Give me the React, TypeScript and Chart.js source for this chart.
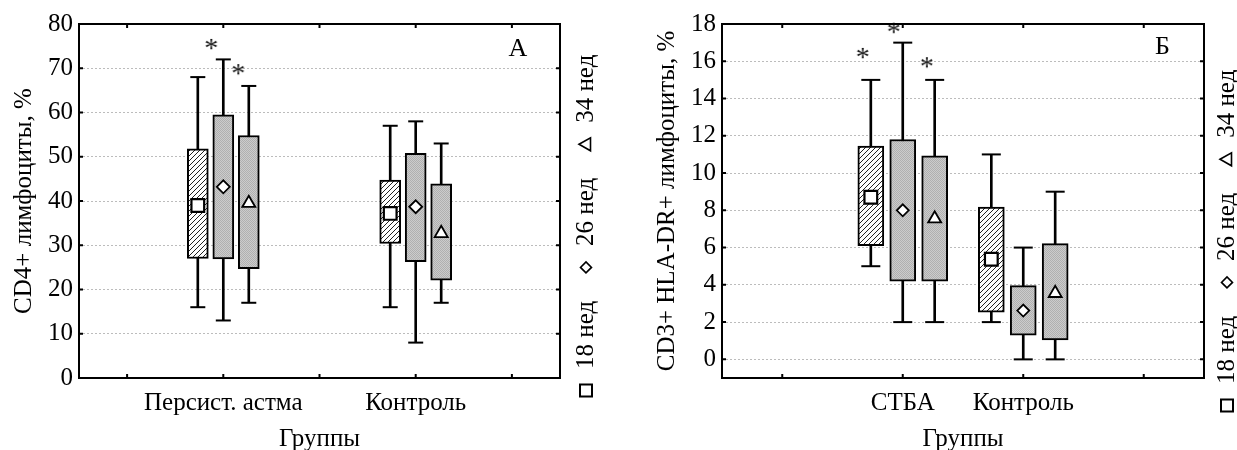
import React, { useEffect, useRef } from 'react';
import { Chart, registerables } from 'chart.js';

Chart.register(...registerables);

const FONT = '"Liberation Serif", "Times New Roman", serif';
const FS = 25;

// ---------- shared ----------
const weeks = ['18 нед', '26 нед', '34 нед'];
const xTitle = 'Группы';

// ---------- panel A: CD4+ ----------
const cd4Title = 'CD4+ лимфоциты, %';
const cd4Letter = 'А';
const cd4Groups = ['Персист. астма', 'Контроль'];
const cd4GroupX = [1, 3];
const cd4XTicks = [0, 1, 2, 3, 4];
// [group][week]
const cd4Min = [[16, 13, 17], [16, 8, 17]];
const cd4Q1 = [[27, 26.9, 24.7], [30.4, 26.3, 22.1]];
const cd4Mid = [[39, 43.2, 39.5], [37.2, 38.7, 32.7]];
const cd4Q3 = [[51.8, 59.5, 54.8], [44.7, 50.8, 43.9]];
const cd4Max = [[68, 72, 66], [57, 58, 53]];
const cd4StarX = [0.875, 1.156];
const cd4StarY = [75.5, 69.8];

// ---------- panel B: CD3+ HLA-DR+ ----------
const hlaTitle = 'CD3+ HLA-DR+ лимфоциты, %';
const hlaLetter = 'Б';
const hlaGroups = ['СТБА', 'Контроль'];
const hlaGroupX = [1, 2];
const hlaXTicks = [0, 1, 2, 3];
const hlaMin = [[5, 2, 2], [2, 0, 0]];
const hlaQ1 = [[6.1, 4.2, 4.2], [2.53, 1.3, 1.05]];
const hlaMid = [[8.7, 8.0, 7.55], [5.37, 2.62, 3.55]];
const hlaQ3 = [[11.45, 11.8, 10.92], [8.18, 3.96, 6.21]];
const hlaMax = [[15, 17, 15], [11, 6, 9]];
const hlaStarX = [0.668, 0.925, 1.2];
const hlaStarY = [16.45, 17.8, 15.95];

const BOX_OFFSETS = [-0.265, 0, 0.265];

type Panel = {
  left: number;
  width: number;
  yAxisWidth: number;
  rightPad: number;
  titlePad: number;
  xMin: number;
  xMax: number;
  xTicks: number[];
  yMin: number;
  yMax: number;
  yStep: number;
  groups: string[];
  groupX: number[];
  min: number[][];
  q1: number[][];
  mid: number[][];
  q3: number[][];
  max: number[][];
  starX: number[];
  starY: number[];
  yTitle: string;
  letter: string;
  letterDx: number;
  letterDy: number;
  boxPx: number;
  capR: number;
  markerR: number[];
  legendX: number;
  legendBottom: number;
};

const panels: Panel[] = [
  {
    left: 0, width: 618, yAxisWidth: 79, rightPad: 58, titlePad: 11.5,
    xMin: -0.5, xMax: 4.5, xTicks: cd4XTicks, yMin: 0, yMax: 80, yStep: 10,
    groups: cd4Groups, groupX: cd4GroupX,
    min: cd4Min, q1: cd4Q1, mid: cd4Mid, q3: cd4Q3, max: cd4Max,
    starX: cd4StarX, starY: cd4StarY,
    yTitle: cd4Title, letter: cd4Letter, letterDx: 42, letterDy: 25.5,
    boxPx: 21, capR: 7.5, markerR: [9, 6.5, 7.5],
    legendX: 586, legendBottom: 397,
  },
  {
    left: 618, width: 619, yAxisWidth: 104, rightPad: 33, titlePad: 36.5,
    xMin: -0.5, xMax: 3.5, xTicks: hlaXTicks, yMin: -1, yMax: 18, yStep: 2,
    groups: hlaGroups, groupX: hlaGroupX,
    min: hlaMin, q1: hlaQ1, mid: hlaMid, q3: hlaQ3, max: hlaMax,
    starX: hlaStarX, starY: hlaStarY,
    yTitle: hlaTitle, letter: hlaLetter, letterDx: 41.5, letterDy: 23.5,
    boxPx: 26, capR: 9.5, markerR: [9, 6, 7.5],
    legendX: 609, legendBottom: 412,
  },
];

function makeFills(ctx: CanvasRenderingContext2D) {
  const h = document.createElement('canvas');
  h.width = 5; h.height = 5;
  const hc = h.getContext('2d')!;
  hc.fillStyle = '#ffffff';
  hc.fillRect(0, 0, 5, 5);
  for (let i = 0; i < 5; i++) {
    hc.fillStyle = '#222222';
    hc.fillRect(i, 4 - i, 1, 1);
  }
  const hatch = ctx.createPattern(h, 'repeat')!;
  const g = document.createElement('canvas');
  g.width = 2; g.height = 2;
  const gc = g.getContext('2d')!;
  gc.fillStyle = '#cccccc';
  gc.fillRect(0, 0, 2, 2);
  gc.fillStyle = '#b0b0b0';
  gc.fillRect(0, 0, 1, 1);
  gc.fillRect(1, 1, 1, 1);
  const dots = ctx.createPattern(g, 'repeat')!;
  return [hatch, dots, dots];
}

function makeStar(size: number) {
  const c = document.createElement('canvas');
  c.width = 22; c.height = 22;
  const x = c.getContext('2d')!;
  x.fillStyle = '#111';
  x.font = `${size}px ${FONT}`;
  x.textAlign = 'center';
  x.textBaseline = 'alphabetic';
  x.fillText('*', 11, 11 + 0.47 * size);
  return c;
}

function drawSymbol(ctx: CanvasRenderingContext2D, kind: number, cx: number, cy: number) {
  ctx.save();
  ctx.fillStyle = '#fff';
  ctx.strokeStyle = '#000';
  ctx.beginPath();
  if (kind === 0) {
    ctx.lineWidth = 2;
    ctx.rect(cx - 6, cy - 6, 12, 12);
  } else if (kind === 1) {
    ctx.lineWidth = 1.6;
    ctx.moveTo(cx - 5.5, cy);
    ctx.lineTo(cx, cy - 5.5);
    ctx.lineTo(cx + 5.5, cy);
    ctx.lineTo(cx, cy + 5.5);
    ctx.closePath();
  } else {
    ctx.lineWidth = 1.6;
    ctx.moveTo(cx, cy - 7);
    ctx.lineTo(cx + 6.5, cy + 4.5);
    ctx.lineTo(cx - 6.5, cy + 4.5);
    ctx.closePath();
  }
  ctx.fill();
  ctx.stroke();
  ctx.restore();
}

function BoxPanel({ cfg }: { cfg: Panel }) {
  const ref = useRef<HTMLCanvasElement>(null);
  useEffect(() => {
    const canvas = ref.current!;
    const ctx = canvas.getContext('2d')!;
    const fills = makeFills(ctx);
    const star = makeStar(28);
    const pos = (gi: number, wi: number) => cfg.groupX[gi] + BOX_OFFSETS[wi];

    const whiskers: any[] = [];
    const caps: any[] = [];
    cfg.groups.forEach((_, gi) => {
      weeks.forEach((__, wi) => {
        whiskers.push({ x: pos(gi, wi), y: [cfg.min[gi][wi], cfg.max[gi][wi]] });
        caps.push({ x: pos(gi, wi), y: cfg.min[gi][wi] });
        caps.push({ x: pos(gi, wi), y: cfg.max[gi][wi] });
      });
    });

    const markerStyles = ['rect', 'rectRot', 'triangle'];
    const datasets: any[] = [
      {
        type: 'bar', data: whiskers, backgroundColor: '#000', borderWidth: 0,
        barThickness: 2, grouped: false, order: 5,
      },
      {
        type: 'scatter', data: caps, pointStyle: 'line', pointRadius: cfg.capR,
        borderColor: '#000', borderWidth: 2, order: 4,
      },
    ];
    weeks.forEach((w, wi) => {
      datasets.push({
        type: 'bar', label: w,
        data: cfg.groups.map((_, gi) => ({ x: pos(gi, wi), y: [cfg.q1[gi][wi], cfg.q3[gi][wi]] })),
        backgroundColor: fills[wi], borderColor: '#000', borderWidth: 2, borderSkipped: false,
        barThickness: cfg.boxPx, grouped: false, order: 3,
      });
    });
    weeks.forEach((w, wi) => {
      datasets.push({
        type: 'scatter', label: w,
        data: cfg.groups.map((_, gi) => ({ x: pos(gi, wi), y: cfg.mid[gi][wi] })),
        pointStyle: markerStyles[wi], pointRadius: cfg.markerR[wi],
        backgroundColor: '#fff', borderColor: '#000', borderWidth: wi === 0 ? 2.2 : 1.8, order: 2,
      });
    });
    datasets.push({
      type: 'scatter',
      data: cfg.starX.map((x, i) => ({ x, y: cfg.starY[i] })),
      pointStyle: star, pointRadius: 5, order: 1, clip: false,
    });

    const decor = {
      id: 'decor',
      afterDatasetsDraw(chart: any) {
        const { ctx: c, chartArea: a, scales } = chart;
        c.save();
        c.strokeStyle = '#000';
        c.lineWidth = 2;
        c.strokeRect(a.left, a.top, a.right - a.left, a.bottom - a.top);
        c.beginPath();
        scales.y.ticks.forEach((t: any) => {
          const y = scales.y.getPixelForValue(t.value);
          c.moveTo(a.left, y); c.lineTo(a.left + 4, y);
          c.moveTo(a.right, y); c.lineTo(a.right - 4, y);
        });
        scales.x.ticks.forEach((t: any) => {
          const x = scales.x.getPixelForValue(t.value);
          c.moveTo(x, a.bottom); c.lineTo(x, a.bottom - 4);
          c.moveTo(x, a.top); c.lineTo(x, a.top + 4);
        });
        c.stroke();

        c.fillStyle = '#000';
        c.font = `26px ${FONT}`;
        c.textAlign = 'center';
        c.textBaseline = 'middle';
        c.fillText(cfg.letter, a.right - cfg.letterDx, a.top + cfg.letterDy);

        // vertical legend
        c.translate(cfg.legendX, cfg.legendBottom);
        c.rotate(-Math.PI / 2);
        c.font = `${FS}px ${FONT}`;
        c.textAlign = 'left';
        c.textBaseline = 'middle';
        let cur = 0;
        weeks.forEach((w, i) => {
          drawSymbol(c, i, cur + 6.5, 0);
          cur += 13 + 15;
          c.fillStyle = '#000';
          c.fillText(w, cur, 0);
          cur += c.measureText(w).width + 27;
        });
        c.restore();
      },
    };

    const font = { family: FONT, size: FS };
    const chart = new Chart(canvas, {
      type: 'bar',
      data: { datasets },
      options: {
        animation: false,
        responsive: false,
        events: [],
        layout: { padding: { left: 0, right: cfg.rightPad, top: 24, bottom: 0 } },
        plugins: { legend: { display: false }, tooltip: { enabled: false } },
        scales: {
          x: {
            type: 'linear', min: cfg.xMin, max: cfg.xMax, offset: false,
            grid: { display: false, drawTicks: false, offset: false },
            border: { display: false },
            afterBuildTicks: (s: any) => {
              s.ticks = cfg.xTicks.map((v) => ({ value: v }));
            },
            ticks: {
              autoSkip: false, maxRotation: 0,
              padding: 10, color: '#000', font,
              callback: (v: any) => {
                const i = cfg.groupX.indexOf(Number(v));
                return i >= 0 ? cfg.groups[i] : '';
              },
            },
            title: {
              display: true, text: xTitle, color: '#000',
              font: { family: FONT, size: FS, lineHeight: 1 },
              padding: { top: 0, bottom: -2 },
            },
            afterFit: (s: any) => { s.height = 72; },
          },
          y: {
            type: 'linear', min: cfg.yMin, max: cfg.yMax,
            grid: { color: '#bcbcbc', lineWidth: 1, drawTicks: false },
            border: { display: false, dash: [2, 2] },
            ticks: { stepSize: cfg.yStep, includeBounds: false, padding: 6, color: '#000', font },
            title: {
              display: true, text: cfg.yTitle, color: '#000',
              font: { family: FONT, size: FS, lineHeight: 1 },
              padding: { top: cfg.titlePad, bottom: 0 },
            },
            afterFit: (s: any) => { s.width = cfg.yAxisWidth; },
          },
        },
      } as any,
      plugins: [decor],
    });
    return () => chart.destroy();
  }, []);
  return (
    <canvas
      ref={ref}
      width={cfg.width}
      height={450}
      style={{ position: 'absolute', left: cfg.left, top: 0, width: cfg.width, height: 450 }}
    />
  );
}

export default function App() {
  return (
    <div style={{ position: 'absolute', left: 0, top: 0, width: 1237, height: 450, background: '#fff', overflow: 'hidden' }}>
      {panels.map((p, i) => (
        <BoxPanel key={i} cfg={p} />
      ))}
    </div>
  );
}
